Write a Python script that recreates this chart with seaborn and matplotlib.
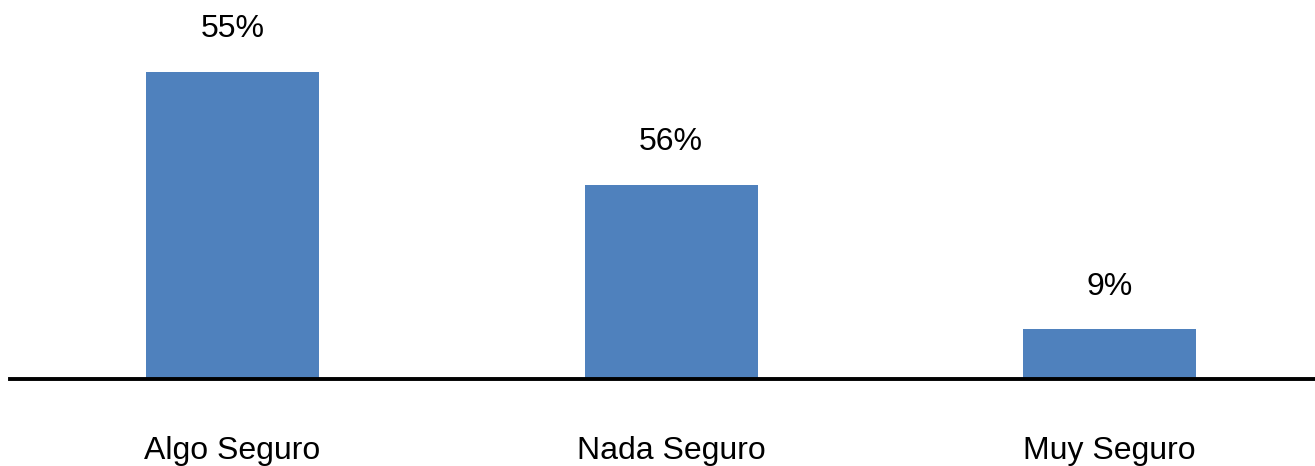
import matplotlib
matplotlib.use("Agg")
import matplotlib.pyplot as plt
import seaborn as sns
import pandas as pd

categories = ["Algo Seguro", "Nada Seguro", "Muy Seguro"]
heights = [57, 36, 9.2]
labels = ["55%", "56%", "9%"]

sns.set_style("white")
plt.rcParams["font.family"] = ["Liberation Sans", "DejaVu Sans"]

W, H = 1315, 466
fig = plt.figure(figsize=(W / 100, H / 100), dpi=100)
ax = fig.add_axes([10 / W, 87 / H, 1305 / W, 379 / H])

df = pd.DataFrame({"cat": categories, "val": heights})
sns.barplot(data=df, x="cat", y="val", color="#4F81BD", saturation=1,
            width=0.3945, ax=ax, edgecolor="none")

ax.set_xlim(-0.5074, 2.4686)
ax.set_ylim(0, 70.4)
for i, (h, lab) in enumerate(zip(heights, labels)):
    ax.annotate(lab, (i, h), xytext=(0, 20), textcoords="offset points",
                ha="center", va="bottom", fontsize=23, color="black")

for s in ["top", "right", "left"]:
    ax.spines[s].set_visible(False)
ax.spines["bottom"].set_linewidth(2.8)
ax.spines["bottom"].set_color("black")
ax.set_yticks([])
ax.set_xlabel("")
ax.set_ylabel("")
ax.tick_params(axis="x", length=0, pad=41, labelsize=23, colors="black")

fig.savefig("out.png", dpi=100)
